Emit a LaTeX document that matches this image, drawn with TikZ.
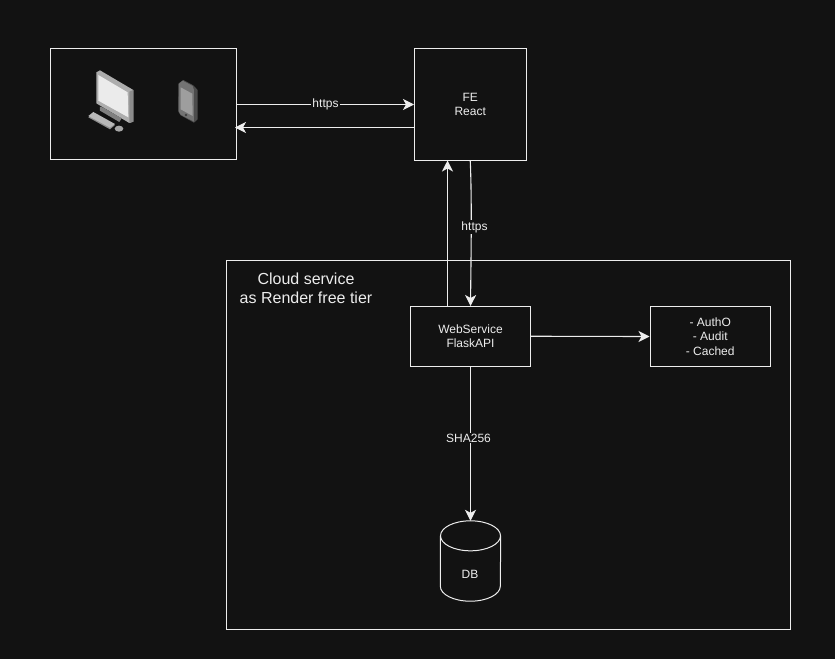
\documentclass[tikz,border=0pt]{standalone}
\usepackage{fontspec}
\setmainfont{Liberation Sans}
\usetikzlibrary{arrows.meta}
\definecolor{bgdark}{HTML}{121212}
\definecolor{linelight}{HTML}{EDEDED}
\begin{document}
\begin{tikzpicture}[x=1pt,y=-1pt]
\tikzstyle{square} = [rectangle, draw=linelight, line width=1pt, inner sep=0pt, text=linelight, align=center, font=\fontsize{12}{14.5}\selectfont]
\tikzstyle{empty} = [inner sep=0pt, text=linelight, align=center]
\tikzstyle{tag} = [empty, fill=bgdark, inner sep=1pt, font=\fontsize{12}{14}\selectfont]
\tikzstyle{arrow} = [draw=linelight, line width=1.1pt, -{Stealth[length=11pt,width=11pt,inset=3pt]}]
\tikzstyle{dbline} = [draw=linelight, line width=1pt]

\fill [bgdark] (0,0) rectangle (835,659);
\useasboundingbox (0,0) rectangle (835,659);

%node
\node (CLOUD) [square, minimum width=563.5pt, minimum height=368.5pt] at (508.25,444.75) {};
\node (CLIENT) [square, minimum width=186pt, minimum height=111pt] at (143.5,104) {};
\node (FE) [square, minimum width=111.5pt, minimum height=112pt] at (470.25,104.5) {FE\\React};
\node (WS) [square, minimum width=120pt, minimum height=59.5pt] at (470.5,336.25) {WebService\\FlaskAPI};
\node (CACHE) [square, minimum width=120.5pt, minimum height=60pt] at (710.25,336.5) {- AuthO\\- Audit\\- Cached};
\node (DB) [empty, minimum width=60pt, minimum height=80pt] at (470.5,561) {};
\node (DBT) [empty, font=\fontsize{12}{14}\selectfont] at (470,574) {DB};
\node (TITLE) [empty, font=\fontsize{16}{19}\selectfont] at (306,288.5) {Cloud service\\as Render free tier};

%target nodes of the two back lines
\coordinate (UPS) at (447.5,306.5);
\coordinate (UPT) at (447.5,160.5);
\coordinate (BACKS) at (414.5,127.5);
\coordinate (BACKT) at (235,127.5);

%cylinder
\draw [dbline] ([yshift=-15pt]DB.north) ellipse [x radius=30pt, y radius=15pt];
\draw [dbline] ([yshift=-15pt]DB.north west) -- ([yshift=15pt]DB.south west) arc [start angle=180, end angle=360, x radius=30pt, y radius=15pt] -- ([yshift=-15pt]DB.north east);

%lines
\draw [arrow] (CLIENT.east |- FE.west) -- node (TAGA) [tag, pos=0.5] {https} (FE.west);
\draw [arrow] (BACKS) -- (BACKT);
\draw [arrow] (UPS) -- (UPT);
\draw [arrow] (FE.south) .. controls (472,200) and (471,260) .. (WS.north);
\node (TAGB) [tag] at (474.5,227) {https};
\draw [arrow] (WS.east) -- (CACHE.west);
\draw [arrow] (WS.south) -- (DB.north);
\node (TAGC) [tag] at (468.5,438) {SHA256};

%monitor
\begin{scope}[shift={(50,40)}, x=0.3333pt, y=-0.3333pt]
\fill [black!32] (139,97) -- (150,91) -- (250,150) -- (250,245) -- (238,249) -- (139,190) -- cycle;
\fill [black!45] (238,155) -- (250,150) -- (250,245) -- (238,249) -- cycle;
\fill [black!8] (145,105) -- (233,157) -- (235,232) -- (145,182) -- cycle;
\fill [black!50] (150,200) -- (160,203) -- (215,235) -- (208,246) -- (150,212) -- cycle;
\fill [black!45] (115,232) -- (130,220) -- (195,255) -- (180,268) -- cycle;
\fill [black!28] (115,228) -- (130,216) -- (195,252) -- (180,263) -- cycle;
\fill [black!35] (207,266) ellipse [x radius=13, y radius=9];
%phone
\fill [black!70] (386,130) -- (400,120) -- (430,136) -- (443,150) -- (443,238) -- (432,248) -- (392,226) -- (385,215) -- cycle;
\fill [black!55] (386,132) -- (398,122) -- (428,138) -- (432,150) -- (432,245) -- (392,224) -- (386,213) -- cycle;
\fill [black!38] (392,142) -- (427,161) -- (428,228) -- (392,208) -- cycle;
\fill [black!75] (408,225) circle [radius=4];
\end{scope}
\end{tikzpicture}
\end{document}
